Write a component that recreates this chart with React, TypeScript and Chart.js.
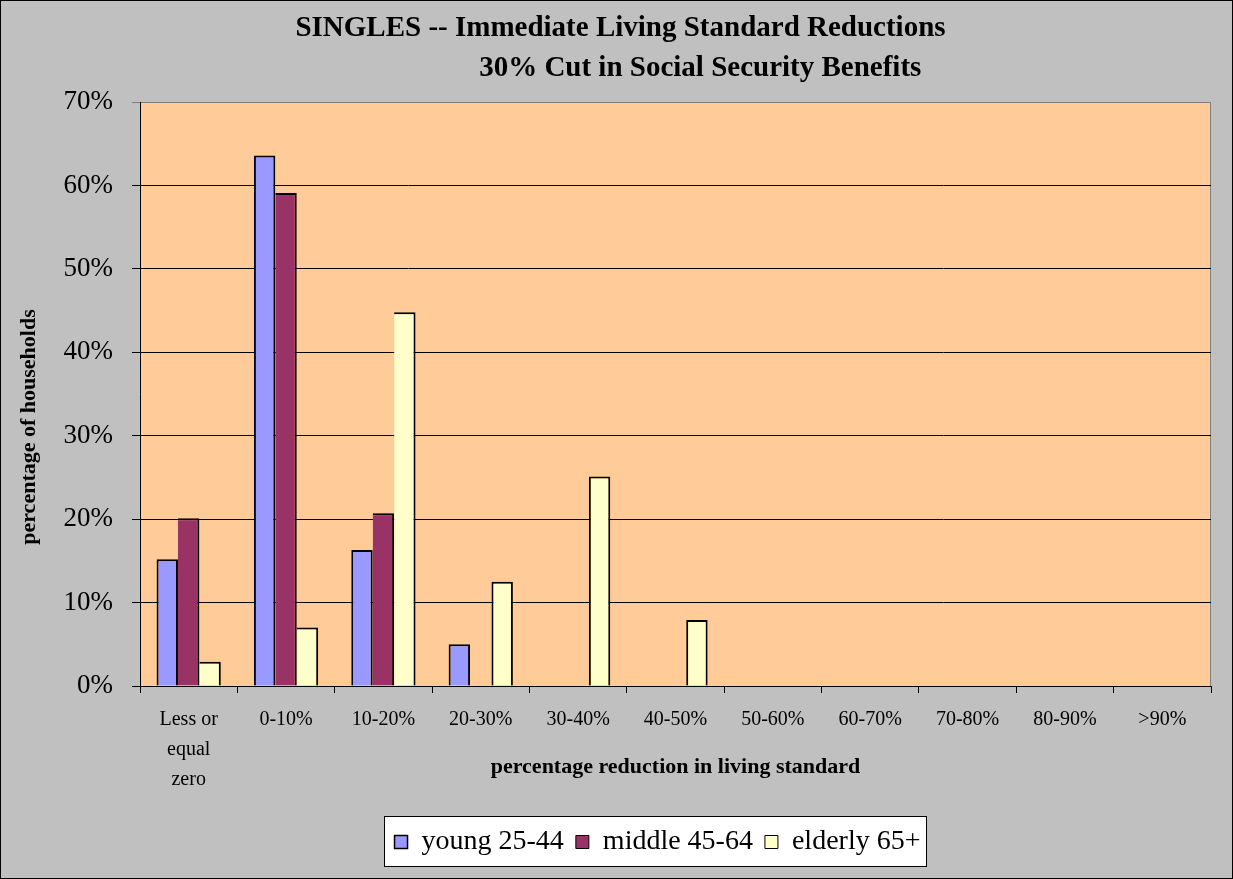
import React, { useEffect, useRef } from "react";
import { Chart, registerables } from "chart.js";

Chart.register(...registerables);

const categories: (string | string[])[] = [
  ["Less or", "equal", "zero"],
  "0-10%",
  "10-20%",
  "20-30%",
  "30-40%",
  "40-50%",
  "50-60%",
  "60-70%",
  "70-80%",
  "80-90%",
  ">90%",
];
const seriesNames = ["young 25-44", "middle 45-64", "elderly 65+"];
const young = [15.2, 63.6, 16.3, 5.0, 0, 0, 0, 0, 0, 0, 0];
const middle = [20.1, 59.1, 20.7, 0, 0, 0, 0, 0, 0, 0, 0];
const elderly = [2.9, 7.0, 44.8, 12.5, 25.1, 7.9, 0, 0, 0, 0, 0];
const yMin = 0;
const yMax = 70;
const yStep = 10;
const titleLines = [
  "SINGLES -- Immediate Living Standard Reductions",
  "                      30% Cut in Social Security Benefits",
];
const xTitle = "percentage reduction in living standard";
const yTitle = "percentage of households            ";

const FONT = "'Liberation Serif', 'Times New Roman', serif";
const colors = ["#9999FF", "#993366", "#FFFFCC"];
const allData = [young, middle, elderly];

const decorPlugin = {
  id: "decor",
  afterLayout(chart: any) {
    const lg = chart.legend;
    if (lg) {
      lg.left += 52;
      lg.right += 52;
    }
    const tt = chart.titleBlock;
    if (tt) {
      tt.left += 15;
      tt.right += 15;
    }
  },
  beforeDraw(chart: any) {
    const { ctx, width, height, chartArea } = chart;
    ctx.save();
    ctx.fillStyle = "#C0C0C0";
    ctx.fillRect(0, 0, width, height);
    ctx.strokeStyle = "#000";
    ctx.lineWidth = 1;
    ctx.strokeRect(0.5, 0.5, width - 1, height - 1);
    // plot area
    ctx.fillStyle = "#FFCC99";
    ctx.fillRect(chartArea.left, chartArea.top, chartArea.right - chartArea.left, chartArea.bottom - chartArea.top);
    ctx.strokeStyle = "#808080";
    ctx.strokeRect(
      chartArea.left + 0.5,
      chartArea.top + 0.5,
      chartArea.right - chartArea.left - 1,
      chartArea.bottom - chartArea.top
    );
    // legend frame
    const lg = chart.legend;
    if (lg && lg.legendHitBoxes && lg.legendHitBoxes.length) {
      const boxes = lg.legendHitBoxes;
      let l = Infinity;
      let r = -Infinity;
      boxes.forEach((b: any) => {
        l = Math.min(l, b.left);
        r = Math.max(r, b.left + b.width);
      });
      const x0 = Math.round(l - 11) + 0.5;
      const x1 = Math.round(r + 6) + 0.5;
      const y0 = Math.round(lg.top) + 0.5;
      const y1 = Math.round(lg.top + lg.height) + 0.5;
      ctx.fillStyle = "#FFFFFF";
      ctx.fillRect(x0, y0, x1 - x0, y1 - y0);
      ctx.strokeStyle = "#000";
      ctx.strokeRect(x0, y0, x1 - x0, y1 - y0);
    }
    ctx.restore();
  },
};

export default function App() {
  const ref = useRef<HTMLCanvasElement | null>(null);

  useEffect(() => {
    document.body.style.margin = "0";
    const canvas = ref.current;
    if (!canvas) return;
    const chart = new Chart(canvas, {
      type: "bar",
      data: {
        labels: categories as any,
        datasets: seriesNames.map((name, i) => ({
          label: name,
          data: allData[i],
          backgroundColor: colors[i],
          borderColor: "#000",
          borderSkipped: false,
          borderWidth: (c: any) => {
            if (c.type !== "data") return 2;
            const hasLeft = i > 0 && allData[i - 1][c.dataIndex] > 0;
            return { top: 2, right: 2, bottom: 0, left: hasLeft ? 0 : 2 };
          },
          categoryPercentage: 0.66,
          barPercentage: 1.0,
        })),
      },
      options: {
        animation: false,
        responsive: false,
        devicePixelRatio: 1,
        events: [],
        layout: { padding: { left: 0, right: 22, top: 0, bottom: 13 } },
        plugins: {
          tooltip: { enabled: false },
          title: {
            display: true,
            text: titleLines,
            color: "#000",
            font: { family: FONT, size: 29, weight: "bold", lineHeight: 40 / 29 },
            padding: { top: 9, bottom: 13 },
          },
          legend: {
            display: true,
            position: "bottom",
            labels: {
              color: "#000",
              font: { family: FONT, size: 28 },
              boxWidth: 13,
              boxHeight: 13,
              padding: 12,
            },
          },
        },
        scales: {
          x: {
            grid: {
              display: true,
              drawOnChartArea: false,
              drawTicks: true,
              tickLength: 7,
              color: "#000",
              offset: true,
            },
            border: { display: true, color: "#000", width: 1 },
            ticks: {
              color: "#000",
              font: { family: FONT, size: 20, lineHeight: 1.5 },
              padding: 12,
              maxRotation: 0,
              autoSkip: false,
            },
            title: {
              display: true,
              text: xTitle,
              color: "#000",
              font: { family: FONT, size: 22, weight: "bold", lineHeight: 1.2 },
              padding: { top: 0, bottom: 35 },
            },
            afterFit(scale: any) {
              scale.height = 130;
            },
          },
          y: {
            min: yMin,
            max: yMax,
            grid: {
              color: (c: any) => (c.tick && c.tick.value === yMax ? "#808080" : "#000"),
              drawTicks: true,
              tickLength: 8,
            },
            border: { display: true, color: "#000", width: 1 },
            ticks: {
              stepSize: yStep,
              color: "#000",
              font: { family: FONT, size: 27 },
              padding: 19,
              callback: (v: any) => v + "%",
            },
            title: {
              display: true,
              text: yTitle,
              color: "#000",
              font: { family: FONT, size: 22, weight: "bold", lineHeight: 1.2 },
              padding: { top: 16, bottom: 0 },
            },
            afterFit(scale: any) {
              scale.width = 140;
            },
          },
        },
      },
      plugins: [decorPlugin],
    } as any);
    return () => chart.destroy();
  }, []);

  return (
    <div style={{ width: 1233, height: 879 }}>
      <canvas ref={ref} width={1233} height={879} style={{ display: "block" }} />
    </div>
  );
}
